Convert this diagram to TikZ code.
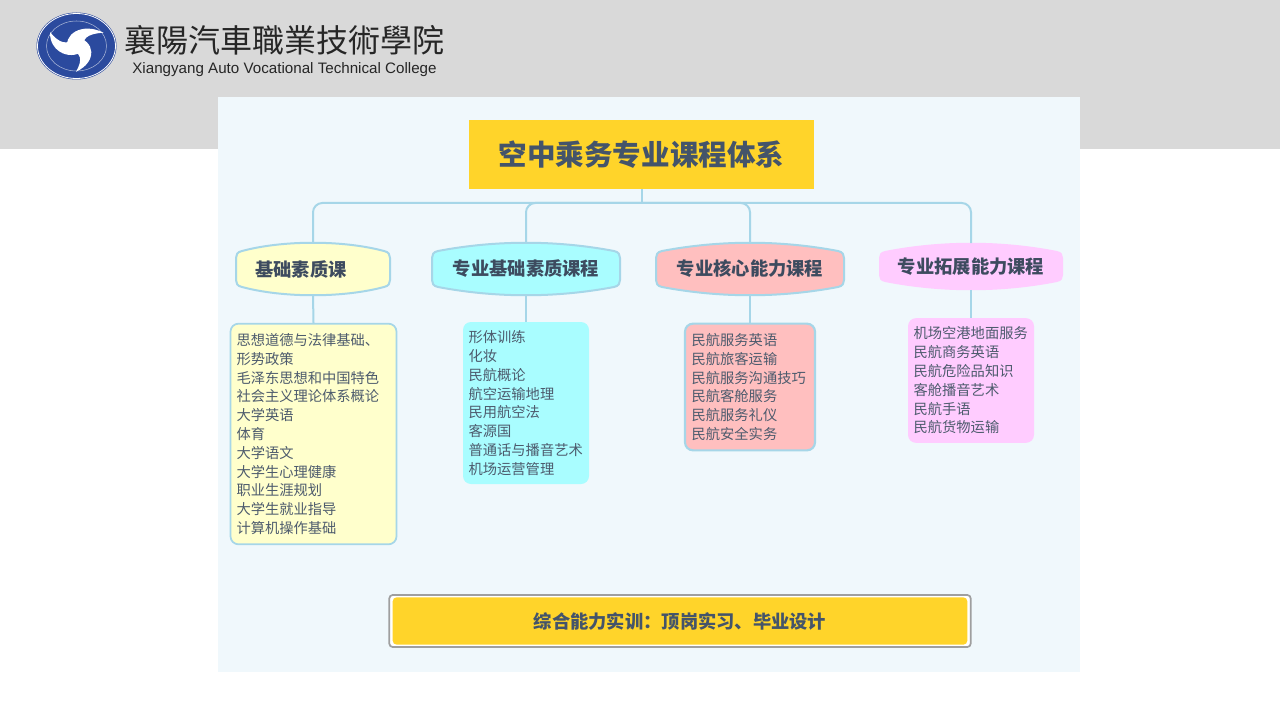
\documentclass[tikz,border=0pt]{standalone}
\usepackage{fontspec}
\setmainfont{Noto Sans CJK SC}
\newfontfamily\tcfont{Noto Sans CJK TC}
\newfontfamily\enfont{Liberation Sans}
\definecolor{topgrey}{HTML}{D9D9D9}
\definecolor{panelbg}{HTML}{F0F8FC}
\definecolor{gold}{HTML}{FFD42A}
\definecolor{inkc}{HTML}{44546A}
\definecolor{wire}{HTML}{A6D6E8}
\definecolor{yel}{HTML}{FFFFCC}
\definecolor{cyn}{HTML}{A9FDFF}
\definecolor{pnk}{HTML}{FFBFBF}
\definecolor{mag}{HTML}{FFCCFF}
\definecolor{logob}{HTML}{2B4A9E}
\tikzset{
  x=0.75pt,y=-0.75pt,
  wireline/.style={draw=wire,line width=1.5pt},
  headtext/.style={font=\fontsize{13.7}{16}\selectfont\bfseries,text=inkc!90!black,inner sep=0pt,minimum height=39pt},
  listbox/.style={rounded corners=6pt,align=left,inner ysep=0pt,inner xsep=0pt,text=inkc!85!gray,
     font=\fontsize{10.7}{14.1}\selectfont},
  headshape/.style={line width=1.5pt,line join=round},
}
\newcommand{\headpath}[4]{% x1 x2 y1 y2
  ({#1+6},{#3+8}) .. controls ({(#1+#2)/2-30},{#3-3}) and ({(#1+#2)/2+30},{#3-3}) .. ({#2-6},{#3+8})
  .. controls ({#2-1},{#3+9}) and (#2,{#3+12}) .. (#2,{#3+15}) -- (#2,{#4-15})
  .. controls (#2,{#4-12}) and ({#2-1},{#4-9}) .. ({#2-6},{#4-8})
  .. controls ({(#1+#2)/2+30},{#4+3}) and ({(#1+#2)/2-30},{#4+3}) .. ({#1+6},{#4-8})
  .. controls ({#1+1},{#4-9}) and (#1,{#4-12}) .. (#1,{#4-15}) -- (#1,{#3+15})
  .. controls (#1,{#3+12}) and ({#1+1},{#3+9}) .. cycle}
\begin{document}
\begin{tikzpicture}
\useasboundingbox (0,0) rectangle (1280,720);
\fill[white] (0,0) rectangle (1280,720);
\fill[topgrey] (0,0) rectangle (1280,149);
\fill[panelbg] (218,97) rectangle (1080,672);
% logo
\fill[logob] (76.5,46) ellipse [x radius=40, y radius=33.5];
\draw[white,line width=0.6pt] (76.5,46) ellipse [x radius=39, y radius=32.5];
\draw[white!60!logob,line width=0.4pt] (76.5,46) ellipse [x radius=30, y radius=25];
\begin{scope}[shift={(76.5,45.5)},yscale=0.85]
  \foreach \a in {0,120,240}{
    \fill[white,rotate=\a] (-8,6) .. controls (-15,-13) and (6,-28) .. (27,-15)
      .. controls (11,-14) and (4,-8) .. (9,4) -- cycle;
  }
\end{scope}
\node[anchor=center,inner sep=0pt,text=black!85] (cn) at (284.5,40) {\tcfont\fontsize{24}{24}\selectfont 襄陽汽車職業技術學院};
\node[anchor=center,inner sep=0pt,text=black!85] (en) at (284.5,69.5) {\enfont\fontsize{11.37}{12}\selectfont Xiangyang Auto Vocational Technical College};
% title
\node[fill=gold,minimum width=259pt,minimum height=52pt,inner sep=0pt,text=inkc,font=\fontsize{21.4}{24}\selectfont\bfseries] (title) at (641.5,154.5) {空中乘务专业课程体系};
% headers
\fill[yel] \headpath{236}{390}{243}{295};
\draw[wire,headshape] \headpath{236}{390}{243}{295};
\node[headtext] (h1) at (313,269) {基础素质课\rule{18pt}{0pt}};
\fill[cyn] \headpath{432}{620}{243}{295};
\draw[wire,headshape] \headpath{432}{620}{243}{295};
\node[headtext] (h2) at (526,269) {专业基础素质课程};
\fill[pnk] \headpath{656}{844}{243}{295};
\draw[wire,headshape] \headpath{656}{844}{243}{295};
\node[headtext] (h3) at (750,269) {专业核心能力课程};
\fill[mag] \headpath{879}{1063}{243}{290};
\node[headtext,minimum height=34.5pt] (h4) at (971,266.5) {专业拓展能力课程};
% lists
\node[listbox,fill=yel,draw=wire,line width=1.3pt,minimum height=165.5pt,text width=115.5pt,inner xsep=4.5pt] (b1) at (313.5,434) {思想道德与法律基础、\\形势政策\\毛泽东思想和中国特色\\社会主义理论体系概论\\大学英语\\体育\\大学语文\\大学生心理健康\\职业生涯规划\\大学生就业指导\\计算机操作基础};
\node[listbox,fill=cyn,minimum height=121.5pt,text width=86pt,inner xsep=4.25pt] (b2) at (526,403) {形体训练\\化妆\\民航概论\\航空运输地理\\民用航空法\\客源国\\普通话与播音艺术\\机场运营管理};
\node[listbox,fill=pnk,draw=wire,line width=1.6pt,minimum height=95pt,text width=87.5pt,inner xsep=5pt] (b3) at (750,387) {民航服务英语\\民航旅客运输\\民航服务沟通技巧\\民航客舱服务\\民航服务礼仪\\民航安全实务};
\node[listbox,fill=mag,minimum height=93.5pt,text width=86pt,inner xsep=4.25pt] (b4) at (971,380.5) {机场空港地面服务\\民航商务英语\\民航危险品知识\\客舱播音艺术\\民航手语\\民航货物运输};
% connectors
\coordinate (bus) at (641.5,203);
\draw[wireline] (title.south) -- (bus);
\draw[wireline,rounded corners=7pt] (h1.north) |- (bus) -| (h4.north);
\draw[wireline,rounded corners=7pt] (h2.north) |- (bus);
\draw[wireline,rounded corners=7pt] (h3.north) |- (bus);
\draw[wireline] (h1.south) -- (b1.north);
\draw[wireline] (h2.south) -- (b2.north);
\draw[wireline] (h3.south) -- (b3.north);
\draw[wireline] (h4.south) -- (b4.north);
% bottom
\node[draw=gray!75,fill=white,line width=1.3pt,rounded corners=2.5pt,minimum width=436pt,minimum height=39pt,inner sep=0pt] (fo) at (680,621) {};
\node[fill=gold,rounded corners=3pt,minimum width=431pt,minimum height=35.5pt,inner sep=0pt,text=inkc,font=\fontsize{13.7}{16}\selectfont\bfseries] (bar) at (680,621) {综合能力实训：顶岗实习、毕业设计};
\end{tikzpicture}
\end{document}
